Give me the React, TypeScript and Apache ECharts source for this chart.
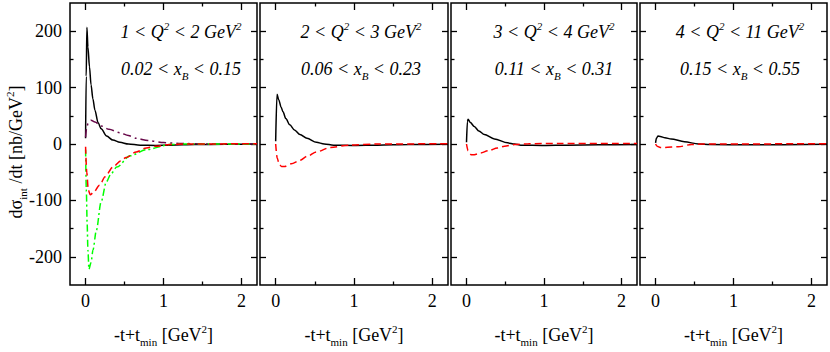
import React, { useEffect, useRef } from "react";
import * as echarts from "echarts";

// ---- data ----
const X_MIN = -0.2;
const X_MAX = 2.2;
const Y_MIN = -250;
const Y_MAX = 250;
const xTickMajor = [0, 1, 2];
const xTickMinor = [0.5, 1.5];
const yTickMajor = [-200, -100, 0, 100, 200];
const yTickMinor = [-150, -50, 50, 150];

const q2Lo = ["1", "2", "3", "4"];
const q2Hi = ["2", "3", "4", "11"];
const xbLo = ["0.02", "0.06", "0.11", "0.15"];
const xbHi = ["0.15", "0.23", "0.31", "0.55"];

const p1Black = [[0, 10], [0.008, 120], [0.017, 207], [0.03, 172], [0.05, 137], [0.07, 105], [0.094, 80], [0.12, 60], [0.16, 38], [0.2, 27], [0.27, 14], [0.35, 7], [0.44, 3], [0.55, 0], [0.7, -2], [0.9, -2.5], [1.1, -2], [1.4, -1], [1.8, -0.5], [2.2, 0]];
const p1Purple = [[0, 12], [0.015, 30], [0.035, 38], [0.07, 42], [0.12, 39], [0.2, 32], [0.3, 26], [0.44, 20], [0.55, 15], [0.65, 10], [0.8, 6], [1.0, 2.5], [1.2, 1], [1.5, 0.2], [2.2, 0]];
const p1Red = [[0, -5], [0.015, -50], [0.035, -82], [0.06, -90], [0.1, -86], [0.18, -73], [0.25, -58], [0.35, -41], [0.45, -30], [0.52, -24], [0.65, -14], [0.78, -7], [0.9, -4], [1.08, -1], [1.3, 0], [2.2, 0.5]];
const p1Green = [[0, -10], [0.01, -84], [0.02, -140], [0.03, -188], [0.043, -222], [0.07, -210], [0.095, -188], [0.138, -153], [0.2, -102], [0.267, -67], [0.33, -52], [0.4, -41], [0.57, -21], [0.78, -10], [1.08, -1], [1.3, 0], [2.2, 0]];

const p2Black = [[0, 5], [0.017, 88], [0.04, 78], [0.07, 65], [0.094, 57], [0.13, 45], [0.18, 34], [0.24, 25], [0.31, 17], [0.4, 10], [0.52, 3], [0.62, 0], [0.74, -2], [1.0, -2.5], [1.3, -2], [1.7, -1], [2.2, -0.5]];
const p2Red = [[0, 0], [0.02, -25], [0.045, -36], [0.075, -40], [0.11, -40], [0.2, -35], [0.31, -29], [0.4, -22], [0.52, -14], [0.7, -6], [0.95, -2], [1.3, 0], [2.2, 0.5]];

const p3Black = [[0, 3], [0.012, 40], [0.02, 44], [0.05, 38], [0.1, 31], [0.16, 23], [0.23, 17], [0.36, 9], [0.53, 2], [0.62, 0], [0.7, -2], [1.0, -2.5], [1.3, -2], [1.7, -1.5], [2.2, -1]];
const p3Red = [[0, 0], [0.02, -12], [0.06, -19], [0.1, -19], [0.18, -16], [0.28, -12], [0.4, -7], [0.49, -4], [0.62, -1], [0.8, 0.5], [1.2, 1], [2.2, 1]];

const p4Black = [[0, 2], [0.01, 10], [0.03, 14], [0.06, 13.5], [0.12, 11], [0.2, 9], [0.37, 4], [0.55, 0], [0.7, -1], [1.2, -1.5], [2.2, -0.5]];
const p4Red = [[0, 0], [0.02, -4], [0.06, -6], [0.12, -6], [0.29, -5], [0.46, -1], [0.6, 0], [2.2, 0.5]];

const panelBlack = [p1Black, p2Black, p3Black, p4Black];
const panelRed = [p1Red, p2Red, p3Red, p4Red];

// ---- layout ----
const LEFTS = [70, 260, 451, 640];
const WIDTHS = [187, 188, 186, 187];
const GRID_TOP = 3;
const GRID_H = 290;
const TITLE_CX = [181, 361, 554, 740];
const FONT = "serif";

function tickAxis(kind: "x" | "y", gi: number, position: string, ticks: number[], len: number, extra: any = {}) {
  return {
    type: "value",
    gridIndex: gi,
    position,
    min: kind === "x" ? X_MIN : Y_MIN,
    max: kind === "x" ? X_MAX : Y_MAX,
    axisLine: { show: false, onZero: false },
    axisTick: { show: true, inside: true, length: len, customValues: ticks, lineStyle: { color: "#000", width: 1.3 } },
    axisLabel: { show: false },
    splitLine: { show: false },
    ...extra,
  };
}

export default function App() {
  const ref = useRef<HTMLDivElement>(null);
  useEffect(() => {
    document.body.style.margin = "0";
    const chart = echarts.init(ref.current!, null, { renderer: "svg" });
    const grids: any[] = [];
    const xAxes: any[] = [];
    const yAxes: any[] = [];
    const series: any[] = [];
    const graphics: any[] = [];

    for (let i = 0; i < 4; i++) {
      grids.push({
        left: LEFTS[i], top: GRID_TOP, width: WIDTHS[i], height: GRID_H,
        show: true, borderColor: "#000", borderWidth: 1.5,
      });
      xAxes.push(
        tickAxis("x", i, "bottom", xTickMajor, 7, {
          axisLabel: { show: true, customValues: xTickMajor, fontSize: 18, fontFamily: FONT, color: "#000", margin: 7 },
          name: "-t+t{sub|min} [GeV{sup|2}]",
          nameLocation: "middle",
          nameGap: 38,
          nameTextStyle: {
            fontSize: 18, fontFamily: FONT, color: "#000", lineHeight: 24,
            rich: {
              sub: { fontSize: 11, lineHeight: 11, verticalAlign: "bottom", fontFamily: FONT },
              sup: { fontSize: 11, lineHeight: 11, verticalAlign: "top", fontFamily: FONT },
            },
          },
        }),
        tickAxis("x", i, "bottom", xTickMinor, 3.5),
        tickAxis("x", i, "top", xTickMajor, 7),
        tickAxis("x", i, "top", xTickMinor, 3.5)
      );
      yAxes.push(
        tickAxis("y", i, "left", yTickMajor, 6,
          i === 0
            ? { axisLabel: { show: true, customValues: yTickMajor, fontSize: 18, fontFamily: FONT, color: "#000", margin: 8 } }
            : {}),
        tickAxis("y", i, "left", yTickMinor, 3.5),
        tickAxis("y", i, "right", yTickMajor, 6),
        tickAxis("y", i, "right", yTickMinor, 3.5)
      );
      const xi = i * 4;
      const yi = i * 4;
      const base = {
        type: "line", xAxisIndex: xi, yAxisIndex: yi, showSymbol: false, symbol: "none",
        smooth: 0.3, smoothMonotone: "x", clip: true,
      };
      series.push({ ...base, name: `black${i}`, data: panelBlack[i], lineStyle: { color: "#000", width: 1.5, type: "solid" } });
      if (i === 0) {
        series.push({ ...base, name: "purple", data: p1Purple, lineStyle: { color: "#670748", width: 1.5, type: [8, 4, 2, 4] } });
        series.push({ ...base, name: "green", data: p1Green, lineStyle: { color: "#00ff00", width: 1.5, type: [7, 3, 2, 3] } });
      }
      series.push({ ...base, name: `red${i}`, data: panelRed[i], lineStyle: { color: "#ff0000", width: 1.5, type: [7, 4] } });

      const titleRich = {
        i: { fontSize: 18, lineHeight: 24, fontFamily: FONT, fontStyle: "italic" },
        s: { fontSize: 11, lineHeight: 11, verticalAlign: "top", fontFamily: FONT, fontStyle: "italic" },
        b: { fontSize: 11, lineHeight: 11, verticalAlign: "bottom", fontFamily: FONT, fontStyle: "italic" },
      };
      graphics.push({
        type: "text", x: TITLE_CX[i], y: 32,
        style: {
          text: `{i|${q2Lo[i]} < Q}{s|2}{i| < ${q2Hi[i]} GeV}{s|2}`,
          rich: titleRich, align: "center", verticalAlign: "middle",
          fontFamily: FONT, fontSize: 18, fill: "#000",
        },
      });
      graphics.push({
        type: "text", x: TITLE_CX[i], y: 69,
        style: {
          text: `{i|${xbLo[i]} < x}{b|B}{i| < ${xbHi[i]}}`,
          rich: titleRich, align: "center", verticalAlign: "middle",
          fontFamily: FONT, fontSize: 18, fill: "#000",
        },
      });
    }

    graphics.push({
      type: "text", x: 16, y: 152, rotation: Math.PI / 2,
      style: {
        text: "{m|dσ}{b|int}{m| /dt [nb/GeV}{s|2}{m|]}",
        rich: {
          m: { fontSize: 18, lineHeight: 24, fontFamily: FONT },
          b: { fontSize: 11, lineHeight: 11, verticalAlign: "bottom", fontFamily: FONT },
          s: { fontSize: 11, lineHeight: 11, verticalAlign: "top", fontFamily: FONT },
        },
        align: "center", verticalAlign: "middle", fontFamily: FONT, fontSize: 18, fill: "#000",
      },
    });

    chart.setOption({
      animation: false,
      grid: grids,
      xAxis: xAxes,
      yAxis: yAxes,
      series,
      graphic: graphics,
    });
    return () => chart.dispose();
  }, []);
  return <div ref={ref} style={{ width: 830, height: 352 }} />;
}
